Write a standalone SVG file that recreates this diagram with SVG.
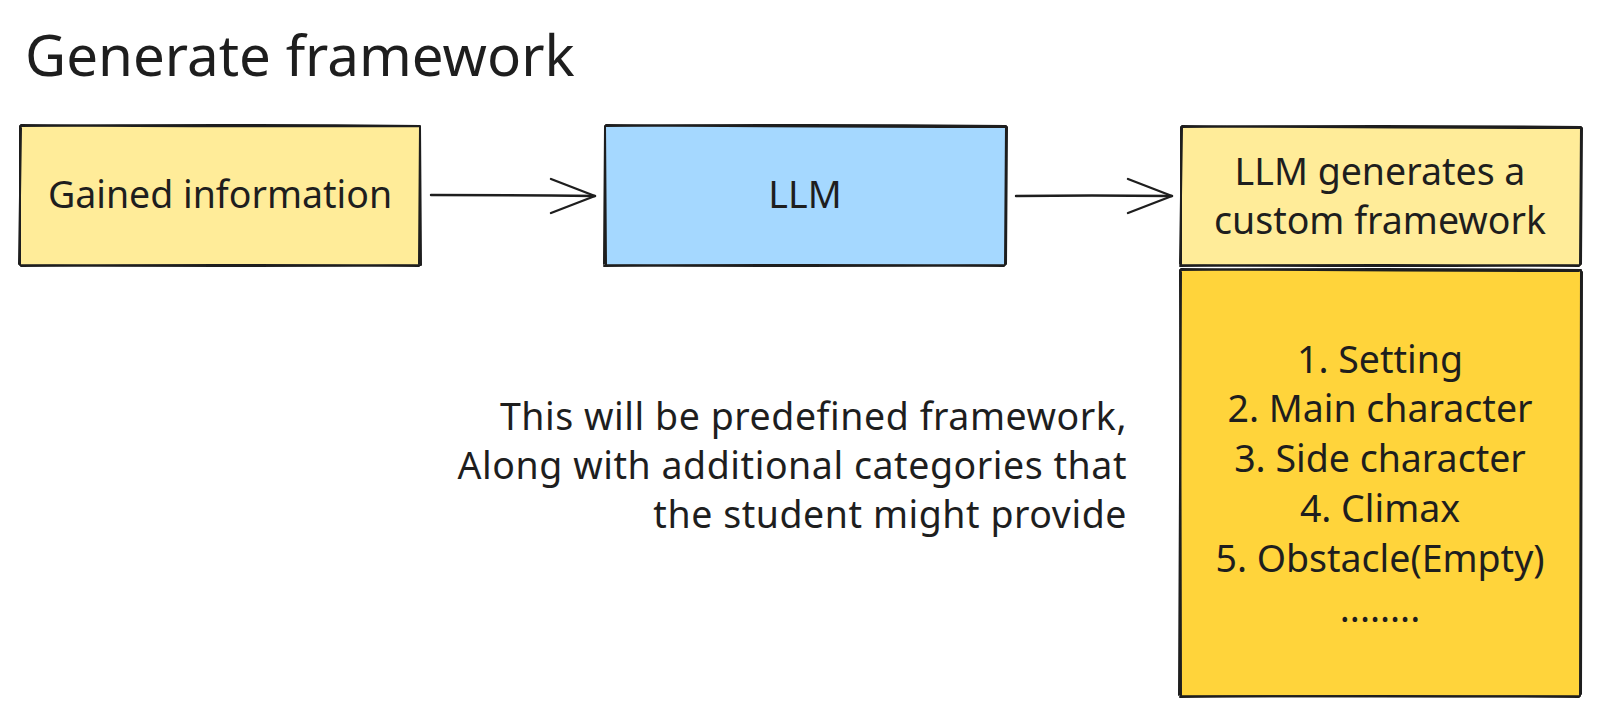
<svg xmlns="http://www.w3.org/2000/svg" width="1601" height="717" viewBox="0 0 1601 717">
<defs>
<style>
.t{font-family:"Noto Sans","Open Sans",sans-serif;fill:#1e1e1e;font-size:37.5px;}
.n{letter-spacing:0.55px;}
.box{stroke:#1e1e1e;stroke-width:2;fill:none;stroke-linecap:round;stroke-linejoin:round;}
.c{stroke:#1e1e1e;stroke-width:2.4;fill:none;stroke-linecap:round;stroke-linejoin:round;}
</style>
</defs>
<rect width="1601" height="717" fill="#ffffff"/>
<text class="t" x="25" y="76" style="font-size:56.5px">Generate framework</text>

<g id="gained">
<rect x="20" y="126" width="400" height="139" fill="#ffec99"/>
<path class="box" d="M20 126 Q220 124 420 126 L421 265 Q220 267 20 265 Z"/>
<path class="box" stroke-width="1" d="M21 125 Q200 127 419 126 M420 127 L419 264 M419 266 Q220 264 21 266 M19 264 L21 128"/>
<text class="t" x="220" y="208" text-anchor="middle">Gained information</text>
</g>

<g id="llm">
<rect x="605" y="125" width="401" height="140" fill="#a5d8ff"/>
<path class="box" d="M605 126 Q805 124 1006 126 L1005 265 Q805 267 606 265 Z"/>
<path class="box" stroke-width="1" d="M606 125 Q800 127 1005 127 M1007 127 L1006 264 M1004 266 Q805 264 604 266 M604 264 L605 127"/>
<text class="t" x="805" y="208" text-anchor="middle">LLM</text>
</g>

<g id="custom">
<rect x="1181" y="127" width="400" height="139" fill="#ffec99"/>
<path class="box" d="M1181 127 Q1380 125 1581 127 L1580 265 Q1380 267 1181 265 Z"/>
<path class="box" stroke-width="1" d="M1182 126 Q1380 128 1580 128 M1582 128 L1581 264 M1579 266 Q1380 264 1180 266 M1180 264 L1182 128"/>
<text class="t" x="1380" y="185" text-anchor="middle">LLM generates a</text>
<text class="t" x="1380" y="234" text-anchor="middle">custom framework</text>
</g>

<g id="list">
<rect x="1180" y="270" width="401" height="426" fill="#ffd43b"/>
<path class="box" d="M1180 270 Q1380 268 1581 270 L1580 696 Q1380 697 1181 696 Z"/>
<path class="box" stroke-width="1" d="M1181 269 Q1380 271 1579 271 M1582 272 L1581 694 M1579 697 Q1380 695 1180 697 M1179 695 L1181 272"/>
<text class="t" x="1380" y="373" text-anchor="middle">1. Setting</text>
<text class="t" x="1380" y="422" text-anchor="middle">2. Main character</text>
<text class="t" x="1380" y="472" text-anchor="middle">3. Side character</text>
<text class="t" x="1380" y="522" text-anchor="middle">4. Climax</text>
<text class="t" x="1380" y="572" text-anchor="middle">5. Obstacle(Empty)</text>
<text class="t" x="1380" y="622" text-anchor="middle">........</text>
</g>

<g id="note">
<text class="t n" x="1127" y="430" text-anchor="end">This will be predefined framework,</text>
<text class="t n" x="1127" y="479" text-anchor="end">Along with additional categories that</text>
<text class="t n" x="1127" y="528" text-anchor="end">the student might provide</text>
</g>

<g id="connectors">
<path class="c" d="M431 195 Q510 195 595 196"/>
<path class="c" d="M551 179 L595 196 L551 213"/>
<path class="c" d="M1016 196 Q1090 195 1172 196"/>
<path class="c" d="M1128 179 L1172 196 L1128 213"/>
</g>
</svg>
